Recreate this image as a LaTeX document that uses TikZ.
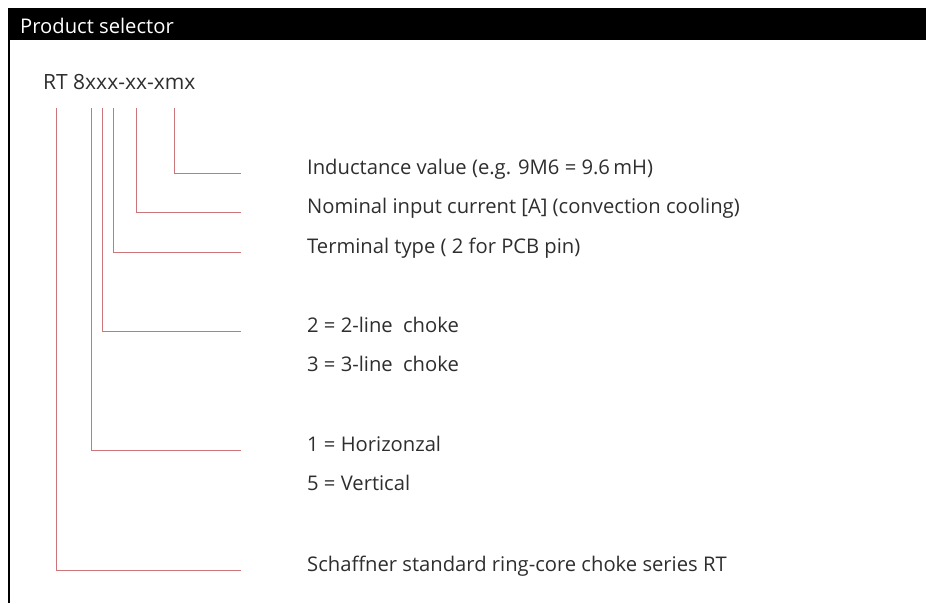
\documentclass[tikz,border=0pt]{standalone}
\usepackage{fontspec}
\setmainfont{Open Sans}
\definecolor{leadred}{RGB}{204,118,124}
\tikzset{
  lead/.style={draw=leadred,line width=0.9pt},
  desc/.style={anchor=base west,inner sep=0pt,text=black!82}
}
\begin{document}
\begin{tikzpicture}[x=1pt,y=-1pt]
\useasboundingbox (0,0) rectangle (926,603);
\fontsize{20.2}{24}\selectfont

% header bar and left border
\fill[black] (8,8) rectangle (926,40);
\draw[line width=2pt] (9,40) -- (9,603);
\node[desc,text=white] (title) at (20,33) {Product selector};

% type code
\node[desc,font=\fontsize{21}{24}\selectfont] (code) at (43,89) {RT 8xxx-xx-xmx};

\coordinate (c1) at (56.7,108);
\coordinate (c2) at (91,108);
\coordinate (c3) at (102.3,108);
\coordinate (c4) at (113.3,108);
\coordinate (c5) at (136.7,108);
\coordinate (c6) at (174,108);

\coordinate (e1) at (241,570.3);
\coordinate (e2) at (241,450.3);
\coordinate (e3) at (241,331.3);
\coordinate (e4) at (241,252.3);
\coordinate (e5) at (241,212.7);
\coordinate (e6) at (241,173);

\draw[lead] (c6) |- (e6);
\draw[lead] (c5) |- (e5);
\draw[lead] (c4) |- (e4);
\draw[lead] (c3) |- (e3);
\draw[lead] (c2) |- (e2);
\draw[lead] (c1) |- (e1);

% descriptions
\node[desc] (induct) at (307,174) {Inductance value (e.g. 9M6 = 9.6\,mH)};
\node[desc] (current) at (307,213) {Nominal input current [A] (convection cooling)};
\node[desc] (term) at (307,253) {Terminal type ( 2 for PCB pin)};
\node[desc] (line2) at (307,332) {2 = 2-line\hspace{0.25em} choke};
\node[desc] (line3) at (307,371) {3 = 3-line\hspace{0.25em} choke};
\node[desc] (horiz) at (307,451) {1 = Horizonzal};
\node[desc] (vert) at (307,490) {5 = Vertical};
\node[desc] (series) at (307,571) {Schaffner standard ring-core choke series RT};
\end{tikzpicture}
\end{document}
